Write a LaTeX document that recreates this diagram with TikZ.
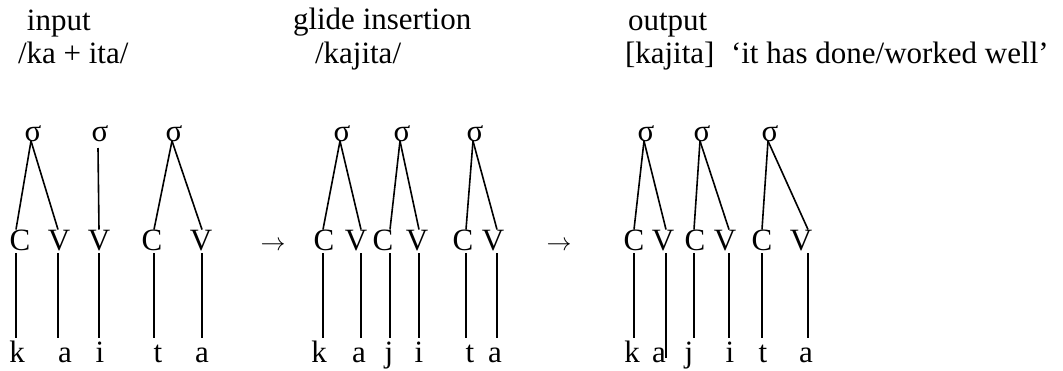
\documentclass[tikz,border=0pt]{standalone}
\usepackage{fontspec}
\setmainfont{Liberation Serif}
\newcommand\vln[3]{\draw ([xshift=#2pt]#1.south) -- ([xshift=#2pt]#1.south |- #3.north);}
\newcommand\brn[3]{\draw ([xshift=-2pt]#1.south) -- ([xshift=#3pt]#2.north);}
\begin{document}
\begin{tikzpicture}[x=1pt,y=-1pt,line width=1.6pt,
  every node/.style={inner sep=0pt,outer sep=0pt,font=\fontsize{31}{37}\selectfont},
  lbl/.style={anchor=base west},
  sig/.style={anchor=base,text height=14pt,text depth=0pt},
  seg/.style={anchor=base,text height=20.5pt,text depth=3pt},
  ph/.style={anchor=base,text height=24pt,text depth=0pt},
  arr/.style={anchor=base}]
\useasboundingbox (0,0) rectangle (1063,370);
% headings
\node[lbl] (h1) at (27,30) {input};
\node[lbl] (h2) at (18,63) {/ka + ita/};
\node[lbl] (h3) at (293,29) {glide insertion};
\node[lbl] (h4) at (315,63) {/kajita/};
\node[lbl] (h5) at (628,30) {output};
\node[lbl] (h6) at (625,63) {[kajita]};
\node[lbl] (h7) at (731,63) {‘it has done/worked well’};
% arrows
\node[arr] (ar1) at (273,250) {$\rightarrow$};
\node[arr] (ar2) at (559,250) {$\rightarrow$};
% group 1
\node[sig] (a1) at (33,141) {σ};
\node[sig] (a2) at (100,141) {σ};
\node[sig] (a3) at (174,141) {σ};
\node[seg] (a4) at (20,250) {C};
\node[seg] (a5) at (59,250) {V};
\node[seg] (a6) at (99,250) {V};
\node[seg] (a7) at (152,250) {C};
\node[seg] (a8) at (201,250) {V};
\node[ph] (a9) at (17,362) {k};
\node[ph] (a10) at (65,362) {a};
\node[ph] (a11) at (100,362) {i};
\node[ph] (a12) at (158,362) {t};
\node[ph] (a13) at (202,362) {a};
\brn{a1}{a4}{-4}
\brn{a1}{a5}{-1}
\draw ([xshift=-2pt,yshift=-7pt]a2.south) -- (a6.north);
\brn{a3}{a7}{2}
\brn{a3}{a8}{1}
\vln{a4}{-4}{a9}
\vln{a5}{-1}{a10}
\vln{a6}{0}{a11}
\vln{a7}{2}{a12}
\vln{a8}{1}{a13}
% group 2
\node[sig] (b1) at (342,141) {σ};
\node[sig] (b2) at (402,141) {σ};
\node[sig] (b3) at (475,141) {σ};
\node[seg] (b4) at (324,250) {C};
\node[seg] (b5) at (356,250) {V};
\node[seg] (b6) at (383,250) {C};
\node[seg] (b7) at (417,250) {V};
\node[seg] (b8) at (463,250) {C};
\node[seg] (b9) at (493,250) {V};
\node[ph] (b10) at (319,362) {k};
\node[ph] (b11) at (359,362) {a};
\node[ph] (b12) at (389,362) {j};
\node[ph] (b13) at (419,362) {i};
\node[ph] (b14) at (470,362) {t};
\node[ph] (b15) at (495,362) {a};
\brn{b1}{b4}{-1}
\brn{b1}{b5}{5}
\brn{b2}{b6}{7}
\brn{b2}{b7}{2}
\brn{b3}{b8}{3}
\brn{b3}{b9}{4}
\vln{b4}{-1}{b10}
\vln{b5}{5}{b11}
\vln{b6}{7}{b12}
\vln{b7}{2}{b13}
\vln{b8}{3}{b14}
\vln{b9}{4}{b15}
% group 3
\node[sig] (c1) at (646,141) {σ};
\node[sig] (c2) at (702,141) {σ};
\node[sig] (c3) at (770,141) {σ};
\node[seg] (c4) at (634,250) {C};
\node[seg] (c5) at (663,250) {V};
\node[seg] (c6) at (695,250) {C};
\node[seg] (c7) at (725,250) {V};
\node[seg] (c8) at (762,250) {C};
\node[seg] (c9) at (801,250) {V};
\node[ph] (c10) at (632,362) {k};
\node[ph] (c11) at (659,362) {a};
\node[ph] (c12) at (689,362) {j};
\node[ph] (c13) at (730,362) {i};
\node[ph] (c14) at (763,362) {t};
\node[ph] (c15) at (806,362) {a};
\brn{c1}{c4}{0}
\brn{c1}{c5}{3}
\brn{c2}{c6}{-1}
\brn{c2}{c7}{4}
\brn{c3}{c8}{0}
\brn{c3}{c9}{7}
\vln{c4}{0}{c10}
\draw ([xshift=3pt]c5.south) -- ([xshift=3pt,yshift=4pt]c5.south |- c11.base);
\vln{c6}{-1}{c12}
\vln{c7}{4}{c13}
\vln{c8}{0}{c14}
\vln{c9}{7}{c15}
\end{tikzpicture}
\end{document}
